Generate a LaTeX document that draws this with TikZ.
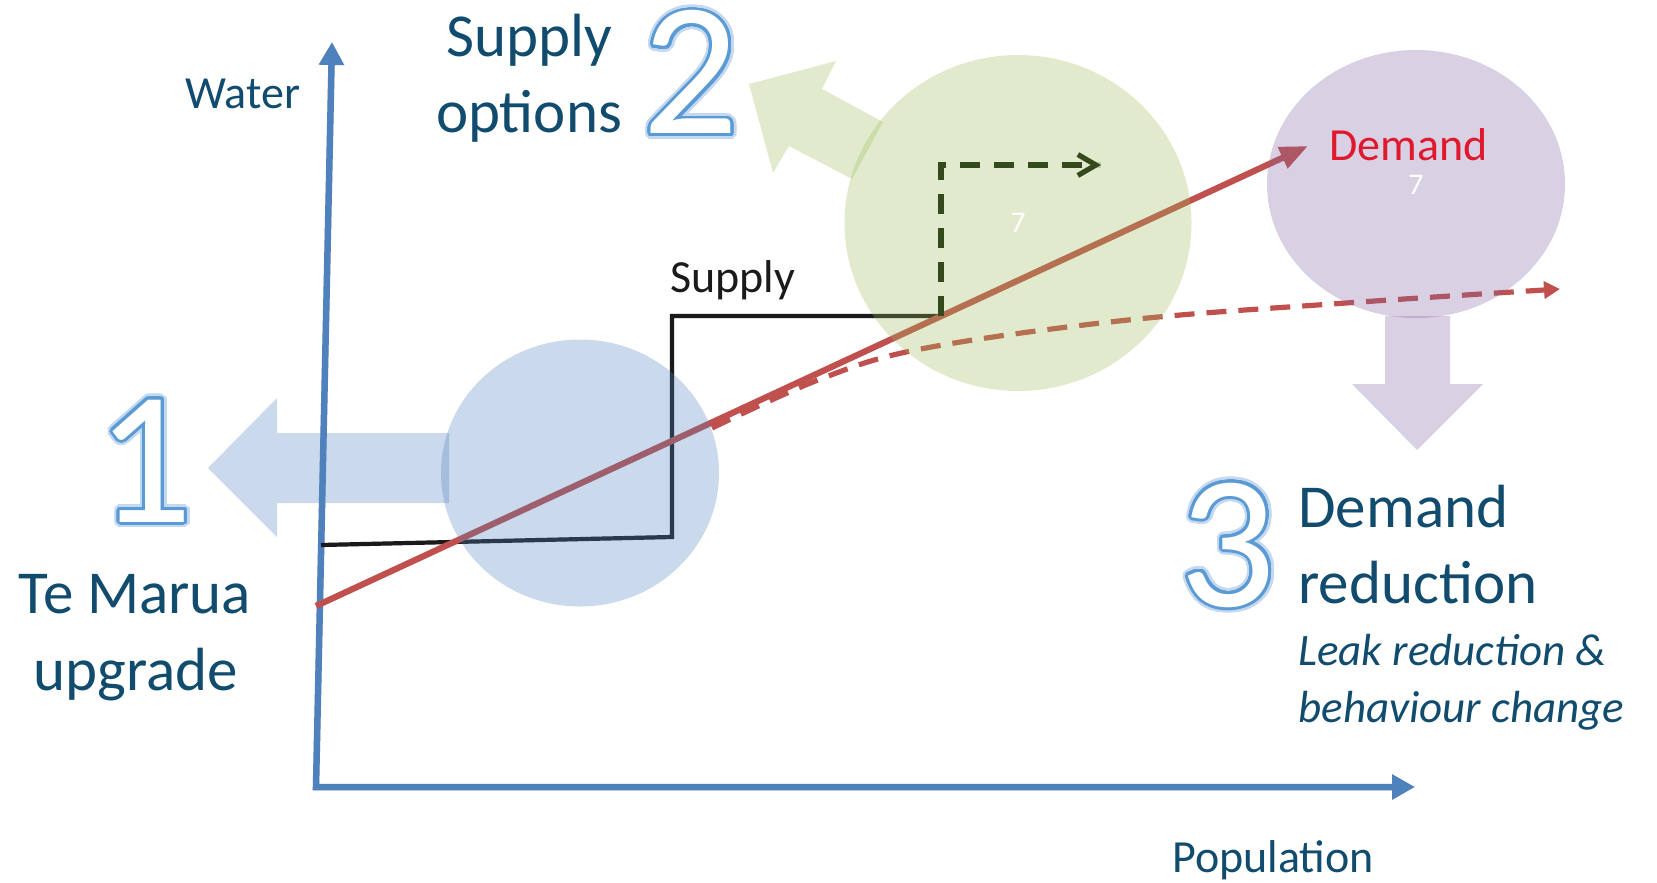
\documentclass[tikz,border=0pt]{standalone}
\usepackage{fontspec}
\setmainfont{Carlito}
\usepackage{contour}
\usetikzlibrary{arrows.meta,shapes.geometric}
\definecolor{axisblue}{HTML}{4F81BD}
\definecolor{accgreen}{HTML}{9BBB59}
\definecolor{accpurple}{HTML}{8064A2}
\definecolor{linered}{HTML}{C0504D}
\definecolor{txtblue}{HTML}{114B6E}
\definecolor{demred}{HTML}{E0182D}
\definecolor{dgreen}{HTML}{34491C}
\definecolor{supblack}{HTML}{1A1A1A}
\definecolor{numblue}{HTML}{5B9BD5}
\definecolor{numglow}{HTML}{C4D8F0}
\contournumber{32}
\newcommand\fbig{\fontsize{30.5}{36}\selectfont}
\newcommand\fmid{\fontsize{23}{28}\selectfont}
\newcommand\fita{\fontsize{22.5}{27}\selectfont\itshape}
\newcommand\fnum{\fontsize{95}{110}\selectfont}
\newcommand\fsev{\fontsize{15}{18}\selectfont}
\newcommand\glownum[1]{\contourlength{2.8pt}\contour{numglow}{\textcolor{numglow}{#1}}}
\newcommand\outnum[1]{\contourlength{1.5pt}\contour{numblue}{\textcolor{white}{#1}}}
\begin{document}
\begin{tikzpicture}[x=0.5pt,y=-0.5pt,
  axis/.style={draw=axisblue, line width=3.25pt, line join=miter},
  shadowline/.style={draw=black, opacity=0.13, shift={(2,3)}},
  blob/.style={ellipse, draw=none, inner sep=0pt, fill opacity=0.3, text opacity=1, text=white, font=\fsev},
  blockarrow/.style={draw=none, fill opacity=0.3},
  redl/.style={draw=linered, line width=3.1pt},
  supl/.style={draw=supblack, line width=2.1pt, line join=miter},
  dgl/.style={draw=dgreen, line width=2.6pt},
  txt/.style={inner sep=0pt, text=txtblue},
  num/.style={inner sep=0pt, font=\fnum}]
\useasboundingbox (0,0) rectangle (1657,882);

% axes
\coordinate (O) at (316,787);
\coordinate (Ytip) at (332,42);
\coordinate (Xtip) at (1415,787);
\draw[axis, shadowline, {Triangle[length=11.5pt,width=12pt]}-{Triangle[length=11.5pt,width=12pt]}] (Ytip) -- (O) -- (Xtip);
\draw[axis, {Triangle[length=11.5pt,width=12pt]}-{Triangle[length=11.5pt,width=12pt]}] (Ytip) -- (O) -- (Xtip);

% supply step line
\coordinate (S0) at (321,545);
\coordinate (S1) at (672,537);
\coordinate (S2) at (672,316);
\coordinate (S3) at (941,316);
\coordinate (S4) at (941,165);
\coordinate (S5) at (1101,165);
\draw[supl, shadowline] (S0) -- (S1) -- (S2) -- (S3);
\draw[supl] (S0) -- (S1) -- (S2) -- (S3);

% demand lines
\coordinate (R0) at (316,606);
\coordinate (R1) at (1308,146);
\draw[redl, -{Triangle[length=14pt,width=11pt]}] (R0) -- (R1);
\draw[redl, line width=2.6pt, dash pattern=on 10pt off 6pt, -{Triangle[length=8pt,width=8.5pt]}]
  plot[smooth, tension=0.6] coordinates {(712,428) (823,378) (926,348) (1128,320) (1346,303) (1560,289)};

% translucent blobs and block arrows
\node[blob, fill=axisblue, minimum width=139pt, minimum height=133.5pt] (blueblob) at (580,473) {};
\fill[blockarrow, fill=axisblue] (208,468) -- (277,398) -- (277,433) -- (449,433) -- (449,503) -- (277,503) -- (277,537) -- cycle;
\node[blob, fill=accgreen, minimum width=173.5pt, minimum height=168pt] (greenblob) at (1018,223) {7};
\fill[blockarrow, fill=accgreen] (749,84) -- (836,61) -- (822,89) -- (883,122) -- (852,179) -- (789,146) -- (773,173) -- cycle;
\node[blob, fill=accpurple, minimum width=149pt, minimum height=134pt] (purpleblob) at (1416,184) {};
\node[inner sep=0pt, text=white, font=\fsev] (purpleseven) at (1416,185) {7};
\fill[blockarrow, fill=accpurple] (1385,316) -- (1450,316) -- (1450,384) -- (1483,384) -- (1417,450) -- (1352,384) -- (1385,384) -- cycle;

% future supply (dashed)
\draw[dgl, shadowline, dash pattern=on 10pt off 7pt] (S3) -- (S4) -- (S5);
\draw[dgl, dash pattern=on 10pt off 7pt, -{Straight Barb[length=9pt,width=10.5pt]}] (S3) -- (S4) -- (S5);

% labels
\node[txt, anchor=base, font=\fmid] (water) at (243,109) {Water};
\node[txt, anchor=base west, font=\fmid] (population) at (1172,872) {Population};
\node[inner sep=0pt, anchor=base west, font=\fmid, text=supblack] (supply) at (670,292) {Supply};
\node[inner sep=0pt, anchor=base west, font=\fmid, text=demred] (demand) at (1329,161) {Demand};

\node[txt, anchor=base, font=\fbig] (supA) at (529,57) {Supply};
\node[txt, anchor=base, font=\fbig] (supB) at (529,133) {options};
\node[txt, anchor=base, font=\fbig] (teA) at (135,613) {Te Marua};
\node[txt, anchor=base, font=\fbig] (teB) at (136,690) {upgrade};
\node[txt, anchor=base west, font=\fbig] (drA) at (1298,527) {Demand};
\node[txt, anchor=base west, font=\fbig] (drB) at (1298,603) {reduction};
\node[txt, anchor=base west, font=\fita] (drC) at (1298,665) {Leak reduction \&};
\node[txt, anchor=base west, font=\fita] (drD) at (1298,722) {behaviour change};

% big outlined numerals
\node[num, anchor=base] (oneglow) at (145,522) {\glownum{1}};
\node[num, anchor=base] (one) at (145,522) {\outnum{1}};
\node[num, anchor=base] (twoglow) at (691,134) {\glownum{2}};
\node[num, anchor=base] (two) at (691,134) {\outnum{2}};
\node[num, anchor=base] (threeglow) at (1228,606) {\glownum{3}};
\node[num, anchor=base] (three) at (1228,606) {\outnum{3}};
\end{tikzpicture}
\end{document}
